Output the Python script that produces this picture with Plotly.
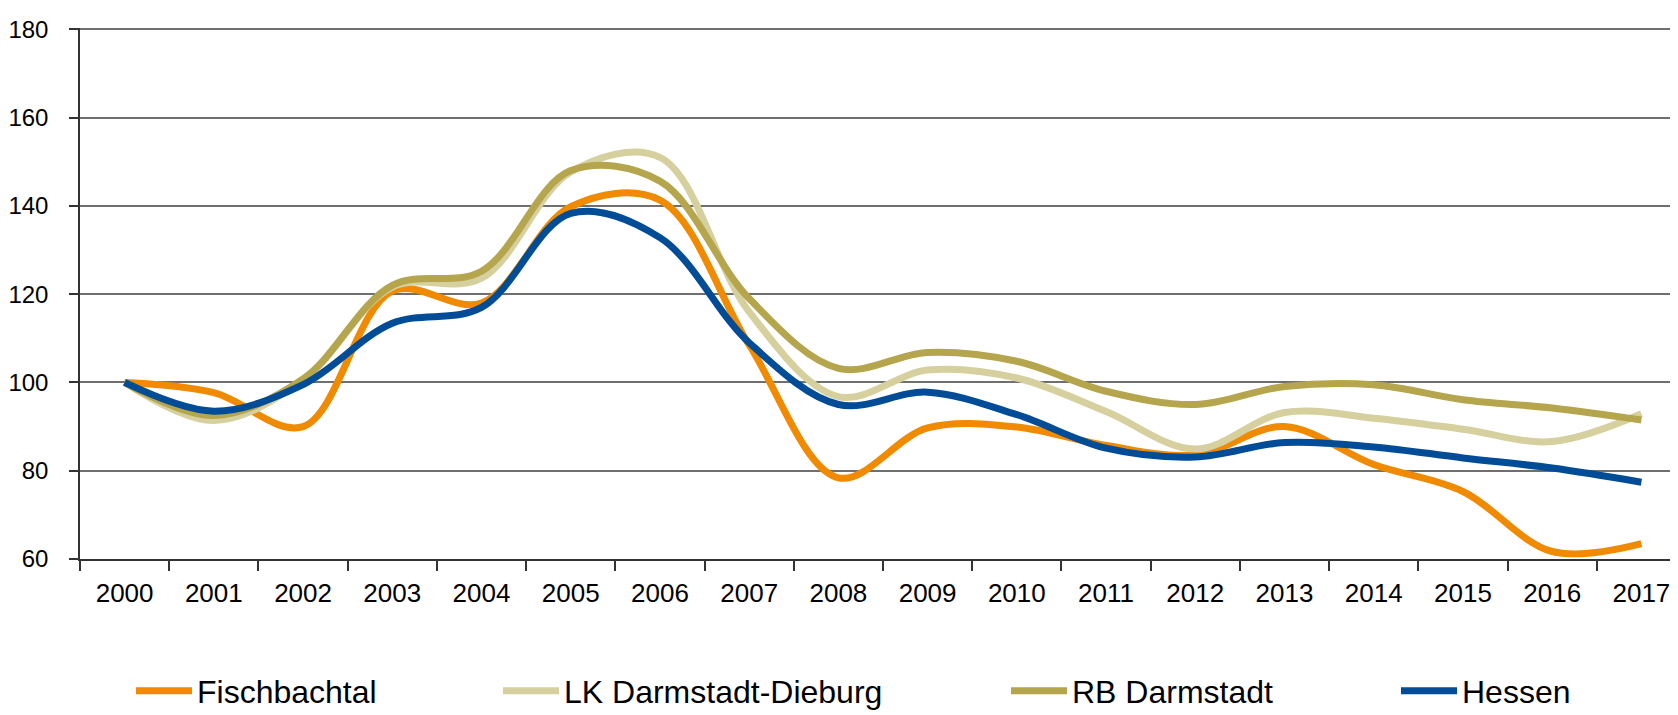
import plotly.graph_objects as go

years = [str(y) for y in range(2000, 2018)]

fischbachtal = [100, 97.7, 90.0, 120.7, 118.0, 139.8, 141.3, 108.5, 78.4, 89.7,
                89.9, 85.7, 83.6, 90.0, 81.4, 75.3, 61.7, 63.5]
lk_darmstadt_dieburg = [100, 91.4, 100.5, 121.6, 123.6, 147.7, 151.0, 116.0, 96.8, 102.8,
                        101.0, 93.4, 84.9, 93.2, 91.9, 89.4, 86.6, 92.9]
rb_darmstadt = [100, 92.5, 100.8, 122.0, 125.2, 148.0, 145.6, 119.0, 103.2, 106.8,
                104.8, 98.0, 95.0, 99.1, 99.5, 96.1, 94.2, 91.5]
hessen = [100, 93.5, 99.5, 113.4, 117.0, 138.3, 132.8, 109.0, 95.0, 97.8,
          92.7, 85.1, 83.1, 86.4, 85.4, 82.9, 80.6, 77.4]

series_names = ["Fischbachtal", "LK Darmstadt-Dieburg", "RB Darmstadt", "Hessen"]
series_values = [fischbachtal, lk_darmstadt_dieburg, rb_darmstadt, hessen]
series_colors = ["#F08A00", "#D6D09E", "#B5A54C", "#004C97"]
legend_ids = ["legend", "legend2", "legend3", "legend4"]
legend_x_px = [123, 490, 998, 1388]

W, H = 1678, 715
FONT = "Liberation Sans, Arial, sans-serif"

fig = go.Figure()
for name, vals, col, lg in zip(series_names, series_values, series_colors, legend_ids):
    fig.add_trace(go.Scatter(
        x=years, y=vals, name=name, mode="lines",
        line=dict(color=col, width=7, shape="spline", smoothing=1.0),
        legend=lg, hoverinfo="x+y+name",
    ))

layout_legends = {}
for lg, xp in zip(legend_ids, legend_x_px):
    layout_legends[lg] = dict(
        xref="container", yref="container",
        x=xp / W, y=1 - 683 / H, xanchor="left", yanchor="middle",
        orientation="h", itemwidth=56, bgcolor="rgba(0,0,0,0)",
        font=dict(family=FONT, size=32, color="#000000"),
        itemclick=False, itemdoubleclick=False,
    )

fig.update_layout(
    width=W, height=H,
    margin=dict(l=72, r=0, t=19.7, b=163.5, pad=0, autoexpand=False),
    plot_bgcolor="white", paper_bgcolor="white",
    font=dict(family=FONT, size=26, color="#000000"),
    showlegend=True,
    **layout_legends,
)

fig.update_xaxes(
    type="category", range=[-0.5, 17.5], automargin=False,
    tickson="boundaries", ticks="outside", ticklen=10, tickwidth=1.5, tickcolor="#333333",
    showline=True, linecolor="#333333", linewidth=1.5,
    showgrid=False, zeroline=False,
    tickfont=dict(family=FONT, size=26, color="#000000"),
    ticklabelstandoff=10,
)
fig.update_yaxes(
    range=[60, 180.3], tickvals=[60, 80, 100, 120, 140, 160, 180], automargin=False,
    ticks="outside", ticklen=9, tickwidth=1.5, tickcolor="#333333",
    showline=True, linecolor="#333333", linewidth=1.5,
    showgrid=True, gridcolor="#6f6f6f", gridwidth=1.5,
    zeroline=False,
    tickfont=dict(family=FONT, size=24, color="#000000"),
    ticklabelstandoff=16,
)

fig.write_html("out.html")
